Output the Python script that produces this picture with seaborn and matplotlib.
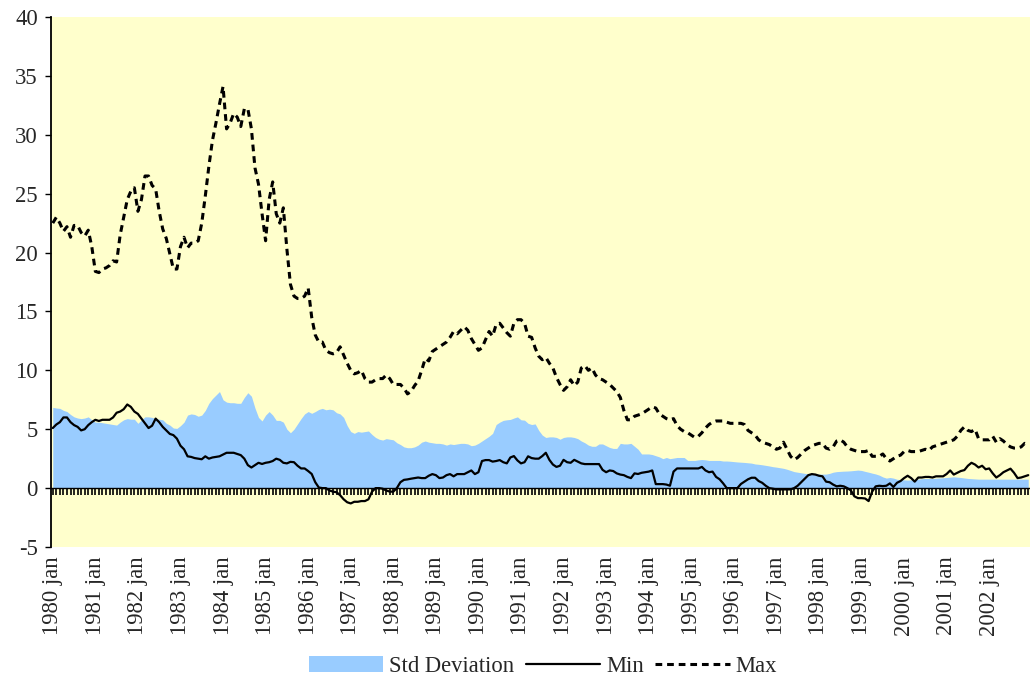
import numpy as np
import pandas as pd
import matplotlib
matplotlib.use('Agg')
import matplotlib.pyplot as plt
import seaborn as sns

years = list(range(1980, 2003))
tick_labels = [f"{y} jan" for y in years]

# monthly values, jan 1980 .. dec 2002
max_vals = [
    22.5, 23.0, 22.5, 21.8, 22.2, 21.3, 22.3, 22.3, 21.7, 21.4, 21.9, 20.5,
    18.4, 18.3, 18.6, 18.7, 18.9, 19.3, 19.2, 21.5, 23.0, 24.5, 25.2, 25.5,
    23.5, 24.5, 26.5, 26.5, 25.7, 25.4, 23.5, 22.0, 21.2, 19.9, 18.6, 18.6,
    20.5, 21.3, 20.4, 20.8, 20.8, 21.0, 22.5, 24.8, 27.3, 29.5, 31.0, 32.6,
    34.1, 30.5, 31.0, 31.8, 31.5, 30.7, 32.2, 32.2, 30.5, 27.2, 25.8, 23.3,
    21.0, 24.5, 26.0, 23.3, 22.5, 23.8, 20.3, 17.3, 16.3, 16.1, 16.1, 16.3,
    17.0, 14.5, 13.0, 12.4, 12.4, 11.7, 11.5, 11.4, 11.5, 12.0, 11.3, 10.6,
    10.0, 9.7, 9.8, 10.0, 9.3, 9.0, 9.0, 9.2, 9.3, 9.3, 9.6, 9.3,
    8.8, 8.8, 8.8, 8.5, 8.0, 8.2, 8.7, 9.1, 10.0, 11.0, 10.8, 11.6,
    11.8, 12.0, 12.2, 12.4, 12.8, 13.3, 13.1, 13.4, 13.7, 13.4, 12.7, 12.2,
    11.7, 11.9, 12.6, 13.3, 12.9, 13.9, 14.0, 13.6, 13.2, 12.9, 14.0, 14.3,
    14.3, 14.0, 12.9, 12.8, 11.9, 11.2, 10.9, 11.1, 10.6, 10.2, 9.4, 8.8,
    8.3, 8.6, 9.2, 8.7, 9.0, 10.2, 10.4, 10.0, 10.2, 9.6, 9.3, 9.2,
    9.0, 8.8, 8.5, 8.2, 7.7, 6.6, 5.8, 5.8, 6.1, 6.2, 6.3, 6.5,
    6.7, 6.9, 6.8, 6.3, 6.1, 5.9, 5.8, 5.9, 5.3, 5.0, 4.8, 4.7,
    4.5, 4.3, 4.4, 4.7, 5.1, 5.4, 5.6, 5.7, 5.7, 5.7, 5.6, 5.5,
    5.5, 5.5, 5.5, 5.4, 4.9, 4.7, 4.5, 4.1, 3.9, 3.8, 3.7, 3.5,
    3.3, 3.4, 3.9, 3.3, 2.7, 2.4, 2.6, 2.9, 3.2, 3.4, 3.6, 3.7,
    3.8, 3.8, 3.4, 3.3, 3.5, 4.0, 4.1, 3.9, 3.5, 3.3, 3.2, 3.1,
    3.1, 3.1, 3.2, 2.7, 2.7, 2.7, 2.9, 2.5, 2.3, 2.5, 2.7, 2.8,
    3.1, 3.2, 3.1, 3.1, 3.1, 3.2, 3.3, 3.2, 3.5, 3.6, 3.7, 3.8,
    3.9, 4.0, 4.1, 4.4, 4.9, 5.2, 4.9, 4.8, 5.0, 4.2, 4.1, 4.1,
    4.1, 4.4, 3.9, 4.2, 4.0, 3.7, 3.5, 3.4, 3.4, 3.5, 3.8, 3.7,
]

min_vals = [
    5.1, 5.4, 5.6, 6.0, 6.0, 5.6, 5.35, 5.2, 4.9, 5.0, 5.35, 5.6,
    5.8, 5.7, 5.8, 5.8, 5.8, 6.0, 6.4, 6.5, 6.7, 7.1, 6.9, 6.5,
    6.3, 5.9, 5.5, 5.1, 5.3, 5.9, 5.6, 5.2, 4.9, 4.6, 4.5, 4.2,
    3.6, 3.3, 2.7, 2.65, 2.55, 2.5, 2.45, 2.7, 2.5, 2.6, 2.65, 2.7,
    2.85, 3.0, 3.0, 3.0, 2.9, 2.8, 2.5, 1.95, 1.75, 1.95, 2.15, 2.05,
    2.15, 2.2, 2.3, 2.5, 2.4, 2.15, 2.1, 2.23, 2.2, 1.9, 1.67, 1.67,
    1.45, 1.2, 0.5, 0.05, 0.0, 0.0, -0.2, -0.3, -0.35, -0.6, -0.95, -1.2,
    -1.3, -1.16, -1.16, -1.1, -1.1, -0.95, -0.3, 0.0, 0.0, -0.05, -0.2, -0.3,
    -0.3, 0.0, 0.5, 0.7, 0.74, 0.8, 0.85, 0.9, 0.85, 0.85, 1.05, 1.19,
    1.1, 0.85, 0.9, 1.1, 1.19, 1.0, 1.19, 1.19, 1.19, 1.35, 1.5, 1.19,
    1.35, 2.3, 2.38, 2.38, 2.25, 2.3, 2.38, 2.2, 2.1, 2.6, 2.72, 2.35,
    2.1, 2.2, 2.7, 2.55, 2.5, 2.5, 2.72, 3.0, 2.4, 2.0, 1.8, 1.9,
    2.4, 2.2, 2.15, 2.4, 2.25, 2.1, 2.04, 2.04, 2.04, 2.04, 2.04, 1.55,
    1.35, 1.5, 1.45, 1.25, 1.15, 1.1, 0.95, 0.85, 1.25, 1.2, 1.3, 1.35,
    1.4, 1.5, 0.34, 0.34, 0.34, 0.3, 0.2, 1.4, 1.67, 1.67, 1.67, 1.67,
    1.67, 1.67, 1.67, 1.8, 1.5, 1.35, 1.4, 0.95, 0.75, 0.4, 0.0, 0.0,
    0.0, 0.0, 0.35, 0.55, 0.75, 0.88, 0.88, 0.6, 0.45, 0.2, 0.0, -0.05,
    -0.11, -0.11, -0.11, -0.11, -0.11, 0.0, 0.2, 0.5, 0.8, 1.1, 1.19, 1.15,
    1.05, 1.0, 0.55, 0.5, 0.3, 0.15, 0.2, 0.15, 0.0, -0.2, -0.7, -0.85,
    -0.85, -0.88, -1.1, -0.3, 0.15, 0.2, 0.17, 0.2, 0.4, 0.1, 0.45, 0.6,
    0.85, 1.05, 0.85, 0.55, 0.9, 0.9, 0.95, 0.95, 0.9, 1.0, 1.0, 1.0,
    1.2, 1.5, 1.15, 1.3, 1.45, 1.53, 1.9, 2.15, 2.0, 1.75, 1.9, 1.6,
    1.67, 1.25, 0.9, 1.1, 1.35, 1.5, 1.65, 1.3, 0.85, 0.9, 1.0, 1.1,
]

std_vals = [
    6.85, 6.8, 6.77, 6.6, 6.5, 6.25, 6.05, 5.95, 5.9, 5.95, 6.05, 5.8,
    5.6, 5.6, 5.55, 5.5, 5.45, 5.4, 5.35, 5.6, 5.8, 5.9, 5.85, 5.85,
    5.5, 5.8, 6.05, 6.05, 6.0, 5.9, 5.85, 5.8, 5.5, 5.35, 5.1, 5.07,
    5.3, 5.6, 6.2, 6.3, 6.25, 6.1, 6.2, 6.6, 7.2, 7.6, 7.9, 8.2,
    7.5, 7.3, 7.25, 7.25, 7.2, 7.2, 7.7, 8.1, 7.8, 6.8, 6.0, 5.7,
    6.2, 6.5, 6.2, 5.75, 5.75, 5.6, 5.0, 4.7, 5.0, 5.45, 5.9, 6.3,
    6.5, 6.35, 6.5, 6.68, 6.77, 6.65, 6.7, 6.65, 6.4, 6.3, 6.0, 5.3,
    4.8, 4.65, 4.8, 4.75, 4.8, 4.85, 4.55, 4.3, 4.15, 4.08, 4.2, 4.15,
    4.1, 3.85, 3.7, 3.5, 3.43, 3.43, 3.5, 3.65, 3.9, 4.0, 3.9, 3.85,
    3.8, 3.8, 3.75, 3.65, 3.75, 3.7, 3.75, 3.8, 3.8, 3.75, 3.6, 3.65,
    3.8, 4.0, 4.2, 4.4, 4.65, 5.4, 5.6, 5.75, 5.8, 5.83, 5.95, 6.05,
    5.8, 5.77, 5.5, 5.4, 5.45, 4.9, 4.5, 4.3, 4.35, 4.35, 4.3, 4.15,
    4.3, 4.35, 4.35, 4.3, 4.2, 4.0, 3.85, 3.65, 3.55, 3.55, 3.75, 3.75,
    3.6, 3.45, 3.37, 3.37, 3.8, 3.75, 3.75, 3.8, 3.55, 3.3, 2.9, 2.9,
    2.9, 2.85, 2.75, 2.65, 2.5, 2.6, 2.5, 2.55, 2.6, 2.6, 2.6, 2.35,
    2.35, 2.35, 2.4, 2.43, 2.4, 2.35, 2.35, 2.35, 2.35, 2.3, 2.3, 2.28,
    2.25, 2.22, 2.2, 2.18, 2.15, 2.12, 2.05, 2.02, 1.98, 1.93, 1.88, 1.82,
    1.78, 1.73, 1.68, 1.6, 1.5, 1.4, 1.35, 1.3, 1.25, 1.22, 1.2, 1.2,
    1.19, 1.19, 1.19, 1.25, 1.35, 1.4, 1.42, 1.44, 1.45, 1.47, 1.5, 1.53,
    1.5, 1.42, 1.35, 1.27, 1.2, 1.1, 0.95, 0.85, 0.9, 0.85, 0.75, 0.72,
    0.7, 0.68, 0.7, 0.72, 0.76, 0.8, 0.82, 0.82, 0.82, 0.84, 0.86, 0.88,
    0.9, 0.93, 0.96, 0.93, 0.9, 0.86, 0.82, 0.8, 0.78, 0.76, 0.76, 0.76,
    0.76, 0.76, 0.76, 0.76, 0.76, 0.76, 0.76, 0.76, 0.76, 0.76, 0.76, 0.76,
]

df = pd.DataFrame({
    "month": np.arange(len(max_vals)),
    "Max": max_vals,
    "Min": min_vals,
    "Std Deviation": std_vals,
})

sns.set_style("white")
plt.rcParams['font.family'] = ['Liberation Serif', 'DejaVu Serif']
plt.rcParams['axes.unicode_minus'] = False

fs = 16.3

fig = plt.figure(figsize=(10.3, 6.77), dpi=100)
ax = fig.add_axes([51 / 1030, 1 - 547 / 677, 1 - 51 / 1030, 530 / 677])
ax.set_facecolor('#FFFFCC')

area = ax.fill_between(df["month"], 0, df["Std Deviation"], color='#99CCFF', lw=0, zorder=1)
sns.lineplot(data=df, x="month", y="Min", color='black', lw=1.6, ax=ax, zorder=3)
sns.lineplot(data=df, x="month", y="Max", color='black', lw=2.2,
             linestyle=(0, (2.2, 1.6)), ax=ax, zorder=4)

ax.set_xlim(-0.5, len(max_vals) - 0.5)
ax.set_ylim(-5, 40)
ax.set_yticks(range(-5, 41, 5))
ax.set_xlabel("")
ax.set_ylabel("")

for s in ['top', 'right']:
    ax.spines[s].set_visible(False)
ax.spines['left'].set_color('black')
ax.spines['left'].set_linewidth(1.3)
ax.spines['bottom'].set_position(('data', 0))
ax.spines['bottom'].set_color('black')
ax.spines['bottom'].set_linewidth(1.0)
ax.spines['bottom'].set_zorder(5)

# monthly tick marks on the zero line
ax.set_xticks(df["month"])
ax.tick_params(axis='x', bottom=True, labelbottom=False, direction='out',
               length=5, width=1.2, color='black')
ax.tick_params(axis='y', left=True, direction='out', length=4.5, width=1.0,
               color='black', labelsize=fs, pad=5)

# year labels along the bottom of the plot area
sec = ax.secondary_xaxis(0)
sec.set_xticks(df["month"][::12], tick_labels, rotation=90, fontsize=fs)
sec.tick_params(length=0, pad=7)
sec.spines['bottom'].set_visible(False)

fig.legend(handles=[area, ax.lines[0], ax.lines[1]],
           labels=["Std Deviation", "Min", "Max"],
           loc='lower center', bbox_to_anchor=(0.527, -0.03), ncol=3,
           frameon=False, fontsize=fs, handlelength=3.3, handletextpad=0.25,
           columnspacing=0.5)

plt.savefig("out.png", dpi=100)
plt.close()
